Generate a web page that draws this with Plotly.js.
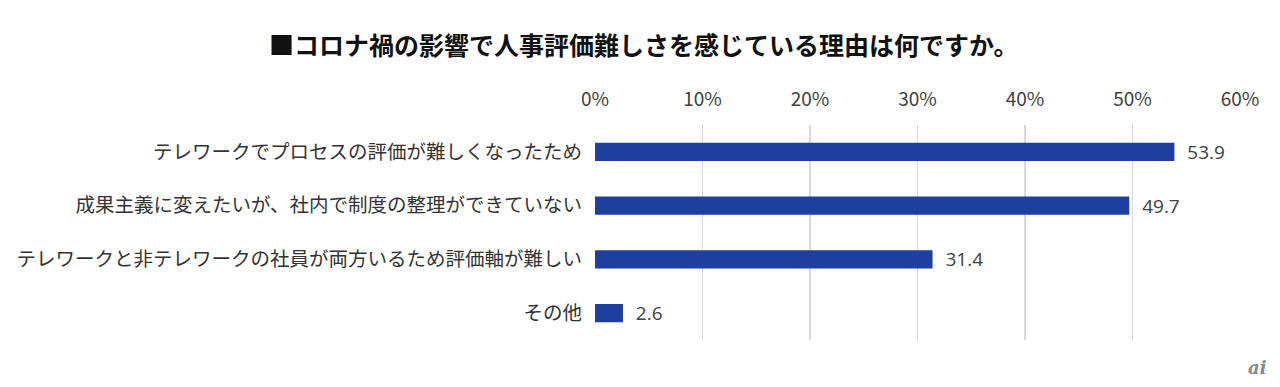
<!DOCTYPE html>
<html><head><meta charset="utf-8">
<script src="https://cdn.plot.ly/plotly-3.0.1.min.js"></script>
<style>html,body{margin:0;padding:0;background:#fff;}#chart{width:1280px;height:387px;}</style>
</head><body><div id="chart"></div>
<script>
const categories = [
  "テレワークでプロセスの評価が難しくなったため",
  "成果主義に変えたいが、社内で制度の整理ができていない",
  "テレワークと非テレワークの社員が両方いるため評価軸が難しい",
  "その他"
];
const values = [53.9, 49.7, 31.4, 2.6];
const valueLabels = ["53.9", "49.7", "31.4", "2.6"];
const tickVals = [0, 10, 20, 30, 40, 50, 60];
const tickText = ["0%", "10%", "20%", "30%", "40%", "50%", "60%"];
const titleText = "■コロナ禍の影響で人事評価難しさを感じている理由は何ですか。";

const font = "Noto Sans CJK JP, Noto Sans, sans-serif";
const trace = {
  type: "bar", orientation: "h",
  x: values, y: categories,
  marker: {color: "#1f3f9f"},
  text: valueLabels, texttemplate: "  %{text}", textposition: "outside",
  constraintext: "none",
  textfont: {family: "Open Sans, Noto Sans, sans-serif", size: 19, color: "#404040"},
  cliponaxis: false, width: 0.34, hoverinfo: "none"
};
const layout = {
  width: 1280, height: 387,
  margin: {l: 595, r: 40, t: 125, b: 47},
  paper_bgcolor: "#fff", plot_bgcolor: "#fff",
  showlegend: false,
  title: {text: "<b>" + titleText + "</b>", x: 0.503, xanchor: "center", y: 0.88, yanchor: "middle",
          font: {family: font, size: 25, color: "#111"}},
  xaxis: {
    side: "top", range: [0, 60], tickvals: tickVals, ticktext: tickText,
    showgrid: true, gridcolor: "#dadada", gridwidth: 1.5, zeroline: false,
    showline: false, ticks: "", ticklabelstandoff: 14,
    tickfont: {family: font, size: 19, color: "#404040"}, fixedrange: true
  },
  yaxis: {
    autorange: "reversed", ticks: "", showgrid: false, zeroline: false,
    tickfont: {family: font, size: 19.5, color: "#333"}, ticklabelstandoff: 12
  },
  annotations: [{
    text: "<i><b>ai</b></i>", xref: "paper", yref: "paper", x: 1.045, y: -0.13,
    xanchor: "right", yanchor: "middle", showarrow: false,
    font: {family: "DejaVu Serif, serif", size: 18, color: "#8a8a8a"}
  }]
};
Plotly.newPlot("chart", [trace], layout, {staticPlot: true});
</script></body></html>
